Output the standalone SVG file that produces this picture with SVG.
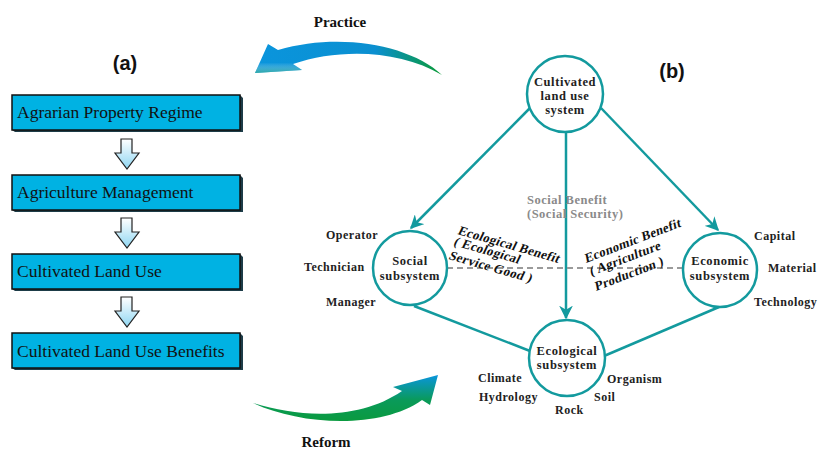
<svg xmlns="http://www.w3.org/2000/svg" width="820" height="450" viewBox="0 0 820 450">
<defs>
<style>
.box{fill:#00b2e3;stroke:#111;stroke-width:1.5}
.shadow{fill:#1d3c48}
.btxt{font-family:"Liberation Serif",serif;font-size:17.5px;fill:#111}
.circ{fill:#fff;stroke:#139a9e;stroke-width:2.5}
.ctxt{font-family:"Liberation Serif",serif;font-size:12.5px;font-weight:bold;fill:#222;text-anchor:middle;letter-spacing:0.6px}
.lbl{font-family:"Liberation Serif",serif;font-size:12px;font-weight:bold;fill:#222;letter-spacing:0.5px}
.rot{font-family:"Liberation Serif",serif;font-size:13px;font-weight:bold;fill:#111;letter-spacing:0.3px}
.gray{font-family:"Liberation Serif",serif;font-size:12.5px;font-weight:bold;fill:#8a8a8a;letter-spacing:0.5px}
.conn{stroke:#139a9e;stroke-width:2.5;fill:none}
.title{font-family:"Liberation Sans",sans-serif;font-size:20px;font-weight:bold;fill:#111;text-anchor:middle}
.big{font-family:"Liberation Serif",serif;font-size:15px;font-weight:bold;fill:#111;text-anchor:middle}
.darr{fill:url(#dg);stroke:#222;stroke-width:1.2}
</style>
<linearGradient id="dg" x1="0" y1="0" x2="0" y2="1">
<stop offset="0" stop-color="#ffffff"/>
<stop offset="1" stop-color="#8fd6f2"/>
</linearGradient>
<linearGradient id="pg" x1="440" y1="60" x2="255" y2="60" gradientUnits="userSpaceOnUse">
<stop offset="0" stop-color="#0a9a3a"/>
<stop offset="0.35" stop-color="#0b8fd0"/>
<stop offset="1" stop-color="#0a95dd"/>
</linearGradient>
<linearGradient id="ph" x1="0" y1="44" x2="0" y2="75" gradientUnits="userSpaceOnUse">
<stop offset="0" stop-color="#ffffff" stop-opacity="0"/>
<stop offset="0.6" stop-color="#ffffff" stop-opacity="0"/>
<stop offset="1" stop-color="#10a070" stop-opacity="0.8"/>
</linearGradient>
<linearGradient id="rg" x1="0" y1="425" x2="0" y2="375" gradientUnits="userSpaceOnUse">
<stop offset="0" stop-color="#0a9a3a"/>
<stop offset="0.5" stop-color="#0a9a5a"/>
<stop offset="1" stop-color="#0a95dd"/>
</linearGradient>
<marker id="ah" viewBox="0 0 10 10" refX="9" refY="5" markerWidth="5.5" markerHeight="5.5" orient="auto" markerUnits="strokeWidth">
<path d="M0,0 L10,5 L0,10 L3,5 z" fill="#139a9e"/>
</marker>
</defs>
<rect width="820" height="450" fill="#fff"/>

<text class="title" x="125" y="70">(a)</text>
<text class="title" x="672" y="78">(b)</text>

<g id="practice">
<path d="M442,75 C410,45 340,32 278,50 L268,44 L255,73 L302,70 L293,64 C340,48 400,50 442,75 z" fill="url(#pg)"/>
<path d="M268,44 L255,73 L302,70 L293,64 L278,50 z" fill="url(#ph)"/>
<text class="big" x="340" y="27">Practice</text>
</g>
<g id="reform">
<path d="M253,403 C300,418 360,420 402,391 L393,387 L438,375 L430,405 L422,400 C380,430 300,425 253,403 z" fill="url(#rg)"/>
<text class="big" x="326" y="447">Reform</text>
</g>

<g id="box1">
<polygon class="shadow" points="15,132 243,132 243,98 240,95 240,130 12,130"/>
<rect class="box" x="12" y="95" width="228" height="35"/>
<text class="btxt" x="17" y="118">Agrarian Property Regime</text>
</g>
<g id="box2">
<polygon class="shadow" points="15,212 243,212 243,178 240,175 240,210 12,210"/>
<rect class="box" x="12" y="175" width="228" height="35"/>
<text class="btxt" x="17" y="198">Agriculture Management</text>
</g>
<g id="box3">
<polygon class="shadow" points="15,291 243,291 243,257 240,254 240,289 12,289"/>
<rect class="box" x="12" y="254" width="228" height="35"/>
<text class="btxt" x="17" y="277">Cultivated Land Use</text>
</g>
<g id="box4">
<polygon class="shadow" points="15,370 243,370 243,336 240,333 240,368 12,368"/>
<rect class="box" x="12" y="333" width="228" height="35"/>
<text class="btxt" x="17" y="357">Cultivated Land Use Benefits</text>
</g>

<g id="flow-arrows">
<path class="darr" d="M121,139 L132,139 L132,153 L139,153 L127,169 L115,153 L121,153 z"/>
<path class="darr" d="M121,218 L132,218 L132,232 L139,232 L127,248 L115,232 L121,232 z"/>
<path class="darr" d="M121,297 L132,297 L132,311 L139,311 L127,327 L115,311 L121,311 z"/>
</g>

<g id="connectors">
<line class="conn" x1="530" y1="108" x2="411" y2="228" marker-end="url(#ah)"/>
<line class="conn" x1="601" y1="108" x2="718" y2="230" marker-end="url(#ah)"/>
<line class="conn" x1="566" y1="132" x2="566" y2="318" marker-end="url(#ah)"/>
<line class="conn" x1="414" y1="306" x2="530" y2="351"/>
<line class="conn" x1="719" y1="307" x2="604" y2="356"/>
<line x1="447" y1="268" x2="684" y2="268" stroke="#9a9a9a" stroke-width="2.2" stroke-dasharray="6,4"/>
</g>

<g id="n-top">
<circle class="circ" cx="565" cy="94" r="38"/>
<text class="ctxt" x="565" y="86">Cultivated</text>
<text class="ctxt" x="565" y="100">land use</text>
<text class="ctxt" x="565" y="114">system</text>
</g>
<g id="n-social">
<circle class="circ" cx="410" cy="268" r="37"/>
<text class="ctxt" x="410" y="265">Social</text>
<text class="ctxt" x="410" y="280">subsystem</text>
</g>
<g id="n-economic">
<circle class="circ" cx="720" cy="270" r="37"/>
<text class="ctxt" x="720" y="265">Economic</text>
<text class="ctxt" x="720" y="280">subsystem</text>
</g>
<g id="n-ecological">
<circle class="circ" cx="567" cy="358" r="38"/>
<text class="ctxt" x="567" y="355">Ecological</text>
<text class="ctxt" x="567" y="369">subsystem</text>
</g>

<g id="labels">
<text class="lbl" x="326" y="239">Operator</text>
<text class="lbl" x="304" y="271">Technician</text>
<text class="lbl" x="326" y="306">Manager</text>
<text class="lbl" x="754" y="240">Capital</text>
<text class="lbl" x="768" y="272">Material</text>
<text class="lbl" x="754" y="306">Technology</text>
<text class="lbl" x="478" y="382">Climate</text>
<text class="lbl" x="479" y="401">Hydrology</text>
<text class="lbl" x="555" y="414">Rock</text>
<text class="lbl" x="594" y="401">Soil</text>
<text class="lbl" x="607" y="383">Organism</text>
<text class="gray" x="527" y="204">Social Benefit</text>
<text class="gray" x="527" y="218">(Social Security)</text>
<text class="rot" transform="translate(457,234) rotate(16) skewX(-10)">Ecological Benefit</text>
<text class="rot" transform="translate(453,245) rotate(16) skewX(-10)">( Ecological</text>
<text class="rot" transform="translate(448,259) rotate(16) skewX(-10)">Service Good )</text>
<text class="rot" transform="translate(586,263) rotate(-21) skewX(-10)">Economic Benefit</text>
<text class="rot" transform="translate(591,276) rotate(-21) skewX(-10)">( Agriculture</text>
<text class="rot" transform="translate(596,291) rotate(-21) skewX(-10)">Production )</text>
</g>
</svg>
